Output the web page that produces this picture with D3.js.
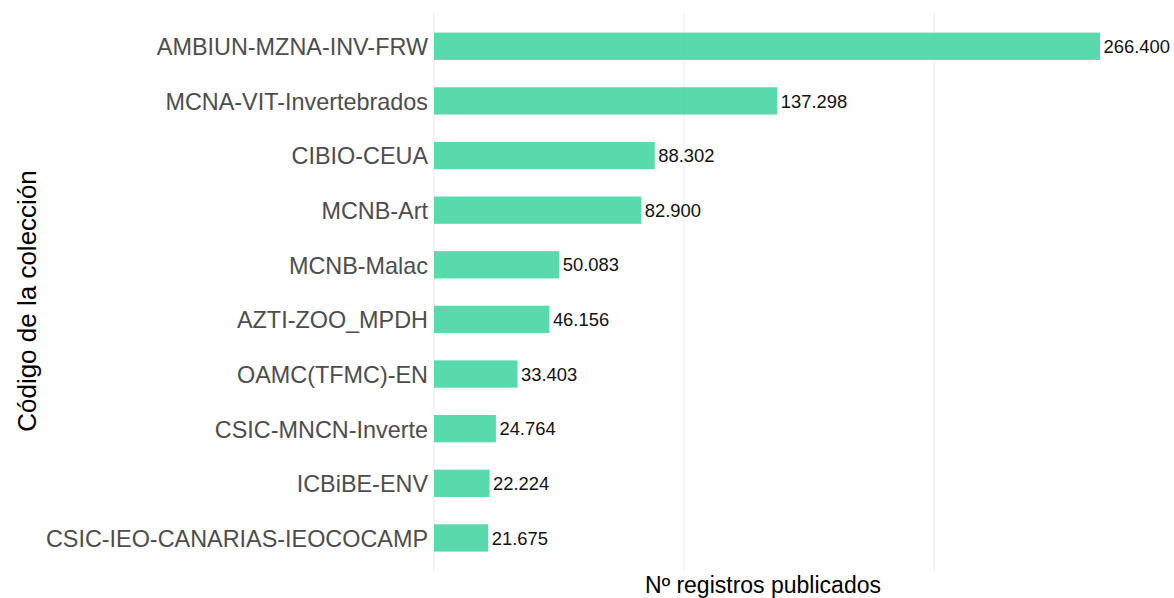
<!DOCTYPE html>
<html>
<head>
<meta charset="utf-8">
<script src="https://cdn.jsdelivr.net/npm/d3@7"></script>
<style>
  body{margin:0;background:#fff;}
  svg{display:block;font-family:"Liberation Sans",Arial,sans-serif;}
</style>
</head>
<body>
<div id="chart"></div>
<script>
// datos
var colecciones=["AMBIUN-MZNA-INV-FRW","MCNA-VIT-Invertebrados","CIBIO-CEUA","MCNB-Art","MCNB-Malac",
    "AZTI-ZOO_MPDH","OAMC(TFMC)-EN","CSIC-MNCN-Inverte","ICBiBE-ENV","CSIC-IEO-CANARIAS-IEOCOCAMP"];
var registros=[266400,137298,88302,82900,50083,46156,33403,24764,22224,21675];
var xTicks=[0,100000,200000];

var width=1174,height=598;
var svg=d3.select("#chart").append("svg")
    .attr("width",width)
    .attr("height",height);

// area del panel
var panel={left:434,top:13.5,bottom:570.7};

// escala x: 0 -> 434, 100000 -> 684
var x=d3.scaleLinear()
    .domain([0,100000])
    .range([panel.left,panel.left+250]);

// escala y discreta con expansion 0.6 como ggplot
var n=colecciones.length;
var step=(panel.bottom-panel.top)/(n-1+1.2);
var y=d3.scalePoint()
    .domain(colecciones)
    .range([panel.top+0.6*step,panel.bottom-0.6*step]);
var barH=step*0.5;

var es=d3.formatLocale({decimal:",",thousands:".",grouping:[3],currency:["","€"]});
var fmt=es.format(",d");

// lineas de la rejilla
svg.append("g")
    .selectAll("line")
    .data(xTicks)
    .enter()
    .append("line")
    .attr("x1",function(d){return x(d);})
    .attr("x2",function(d){return x(d);})
    .attr("y1",panel.top)
    .attr("y2",panel.bottom)
    .attr("stroke","#ebebeb")
    .attr("stroke-width",1);

// barras
svg.append("g")
    .selectAll("rect")
    .data(registros)
    .enter()
    .append("rect")
    .attr("x",x(0))
    .attr("y",function(d,i){return y(colecciones[i])-barH/2;})
    .attr("width",function(d){return x(d)-x(0);})
    .attr("height",barH)
    .attr("fill","#3bd39f")
    .attr("fill-opacity",0.85);

// etiquetas de valor
svg.append("g")
    .selectAll("text")
    .data(registros)
    .enter()
    .append("text")
    .attr("x",function(d){return x(d)+3.5;})
    .attr("y",function(d,i){return y(colecciones[i]);})
    .attr("dy","0.36em")
    .attr("font-size","18.4px")
    .attr("fill","#111")
    .text(function(d){return fmt(d);});

// eje y (etiquetas de categoria)
var gy=svg.append("g")
    .attr("transform","translate("+(panel.left-6)+",0)")
    .call(d3.axisLeft(y).tickSize(0).tickPadding(0));
gy.select(".domain").remove();
gy.selectAll("text")
    .attr("font-family","Liberation Sans, Arial, sans-serif")
    .attr("font-size","23.4px")
    .attr("fill","#4d4d4d")
    .attr("dy","0.36em");

// titulos de ejes
svg.append("text")
    .attr("x",763)
    .attr("y",593)
    .attr("text-anchor","middle")
    .attr("font-size","23px")
    .attr("fill","#000")
    .text("Nº registros publicados");

svg.append("text")
    .attr("transform","translate(36,301) rotate(-90)")
    .attr("text-anchor","middle")
    .attr("font-size","26px")
    .attr("fill","#000")
    .text("Código de la colección");
</script>
</body>
</html>
